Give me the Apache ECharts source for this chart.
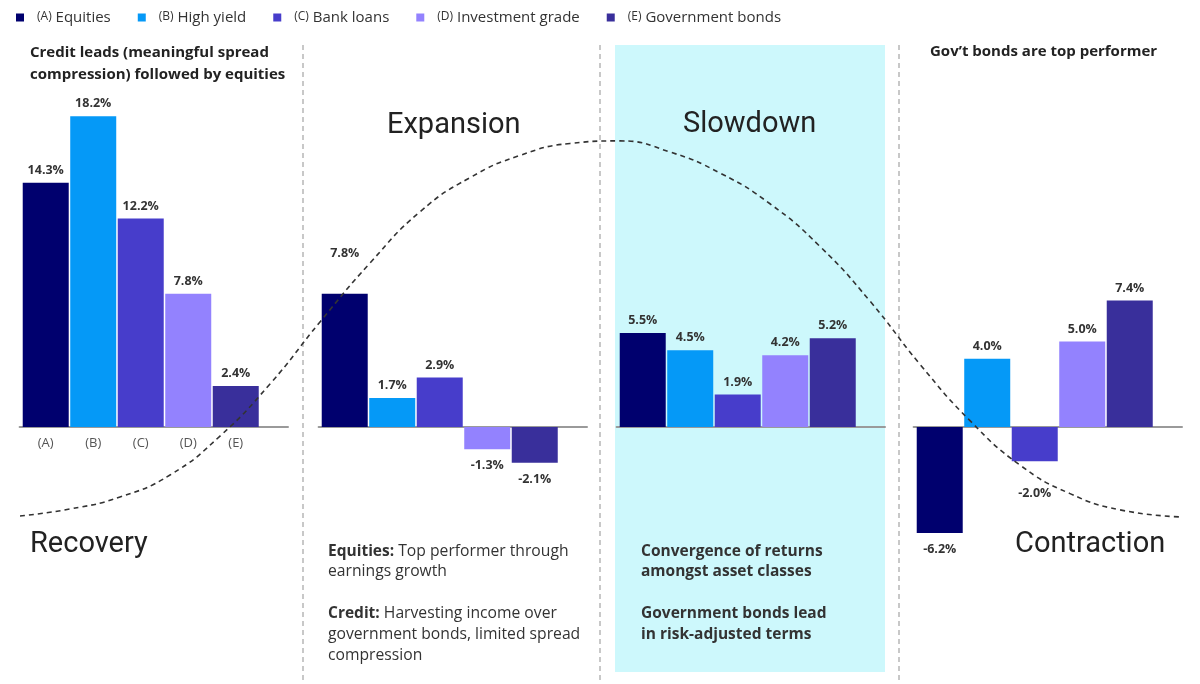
<!DOCTYPE html>
<html>
<head>
<meta charset="utf-8">
<script src="https://cdn.jsdelivr.net/npm/echarts@6/dist/echarts.min.js"></script>
<style>html,body{margin:0;padding:0;background:#fff;}#c{width:1200px;height:684px;}</style>
</head>
<body>
<div id="c"></div>
<script>
// ---- data ----
const assets = ['(A) Equities', '(B) High yield', '(C) Bank loans', '(D) Investment grade', '(E) Government bonds'];
const tickLabels = ['(A)', '(B)', '(C)', '(D)', '(E)'];
const phases = ['Recovery', 'Expansion', 'Slowdown', 'Contraction'];
const recovery = [14.3, 18.2, 12.2, 7.8, 2.4];
const expansion = [7.8, 1.7, 2.9, -1.3, -2.1];
const slowdown = [5.5, 4.5, 1.9, 4.2, 5.2];
const contraction = [-6.2, 4.0, -2.0, 5.0, 7.4];
// business-cycle curve (position across the page, level in %)
const cycleX = [20, 70, 120, 170, 220, 270, 320, 370, 420, 470, 520, 570, 620, 670, 720, 770, 820, 870, 920, 970, 1020, 1070, 1120, 1182];
const cycleY = [-5.21, -4.80, -4.10, -2.81, -0.53, 2.52, 6.15, 9.60, 12.60, 14.60, 15.90, 16.60, 16.75, 16.10, 14.87, 13.07, 10.57, 7.37, 3.67, 0.37, -2.23, -3.90, -4.85, -5.27];

// ---- styles ----
const colors = ['#00006e', '#0599f7', '#473dcb', '#9382fe', '#392f9b'];
const FONT = '"Open Sans", Roboto, sans-serif';
const BIG = 'Roboto, "Noto Sans", sans-serif';
const panelValues = [recovery, expansion, slowdown, contraction];
const panelLeft = [19.6, 318.6, 616.6, 913.6];
const panelWidth = 268.4;
const gridTop = 85.4, gridHeight = 512.4;
const labelDistance = { '1-0': 34, '3-2': 26 };

const grids = [], xAxes = [], yAxes = [], series = [];
panelValues.forEach((vals, p) => {
  grids.push({ left: panelLeft[p], width: panelWidth, top: gridTop, height: gridHeight });
  xAxes.push({
    type: 'value', gridIndex: p, min: -0.05, max: 5.6,
    axisLine: { show: true, onZero: true, lineStyle: { color: '#9a9a9a', width: 2 } },
    axisTick: { show: false }, splitLine: { show: false }, axisLabel: { show: false }
  });
  yAxes.push({ type: 'value', gridIndex: p, min: -10, max: 20, show: false });
  vals.forEach((v, k) => {
    const key = p + '-' + k;
    const neg = v < 0;
    series.push({
      type: 'bar', name: assets[k], xAxisIndex: p, yAxisIndex: p, stack: 'panel' + p,
      barWidth: 46, itemStyle: { color: colors[k] }, z: 2,
      label: {
        show: true, position: neg ? 'bottom' : 'top',
        distance: labelDistance[key] !== undefined ? labelDistance[key] : (neg ? 10 : 6),
        formatter: prm => prm.value[1].toFixed(1) + '%',
        fontWeight: 'bold', fontSize: 12.5, color: '#333', fontFamily: FONT
      },
      data: [[k + 0.5, v]]
    });
  });
});
// full-width grid for the cycle curve (index 4)
grids.push({ left: 0, width: 1200, top: gridTop, height: gridHeight });
xAxes.push({ type: 'value', gridIndex: 4, min: 0, max: 1200, show: false });
yAxes.push({ type: 'value', gridIndex: 4, min: -10, max: 20, show: false });
series.push({
  type: 'line', name: 'cycle', xAxisIndex: 4, yAxisIndex: 4, smooth: 0.5,
  showSymbol: false, silent: true, z: 5,
  lineStyle: { color: '#333', width: 1.6, type: [5, 4] },
  data: cycleX.map((x, i) => [x, cycleY[i]])
});
// category labels under the Recovery bars (index 5: grid whose bottom is the zero line)
grids.push({ left: panelLeft[0], width: panelWidth, top: gridTop, height: gridHeight * 20 / 30 });
xAxes.push({
  type: 'value', gridIndex: 5, min: -0.05, max: 5.6,
  axisLine: { show: false }, axisTick: { show: false }, splitLine: { show: false },
  axisLabel: {
    show: true, customValues: [0.5, 1.5, 2.5, 3.5, 4.5], margin: 10,
    formatter: v => tickLabels[Math.round(v - 0.5)] || '',
    color: '#555', fontSize: 13, fontFamily: FONT
  }
});
yAxes.push({ type: 'value', gridIndex: 5, min: 0, max: 20, show: false });

const txt = (x, y, text, font, extra) => Object.assign({
  type: 'text', z: 20, silent: true,
  style: Object.assign({ x, y, text, font, fill: '#222', verticalAlign: 'middle' }, extra || {})
});
const bodyRich = {
  b: { fontWeight: 'bold', fontSize: 15.5, fontFamily: FONT, fill: '#333' },
  r: { fontSize: 15.7, fontFamily: FONT, fill: '#333' }
};

const graphic = [
  { type: 'rect', z: -10, silent: true, shape: { x: 615, y: 45, width: 270, height: 627 }, style: { fill: '#cdf8fc' } },
  { type: 'line', z: -5, silent: true, shape: { x1: 303, y1: 45, x2: 303, y2: 684 }, style: { stroke: '#c8c8c8', lineWidth: 2, lineDash: [5, 4] } },
  { type: 'line', z: -5, silent: true, shape: { x1: 600, y1: 45, x2: 600, y2: 684 }, style: { stroke: '#c8c8c8', lineWidth: 2, lineDash: [5, 4] } },
  { type: 'line', z: -5, silent: true, shape: { x1: 899, y1: 45, x2: 899, y2: 684 }, style: { stroke: '#c8c8c8', lineWidth: 2, lineDash: [5, 4] } },
  txt(30, 53, 'Credit leads (meaningful spread', 'bold 15px ' + FONT),
  txt(30, 75, 'compression) followed by equities', 'bold 15px ' + FONT),
  txt(930, 52, 'Gov\u2019t bonds are top performer', 'bold 15px ' + FONT),
  txt(387, 126, phases[1], '29px ' + BIG),
  txt(683, 125, phases[2], '29px ' + BIG),
  txt(30, 545, phases[0], '29px ' + BIG),
  txt(1015, 545, phases[3], '29px ' + BIG),
  txt(328, 552, '{b|Equities:}{r| Top performer through}', '15px ' + FONT, { rich: bodyRich }),
  txt(328, 572, '{r|earnings growth}', '15px ' + FONT, { rich: bodyRich }),
  txt(328, 614, '{b|Credit:}{r| Harvesting income over}', '15px ' + FONT, { rich: bodyRich }),
  txt(328, 635, '{r|government bonds, limited spread}', '15px ' + FONT, { rich: bodyRich }),
  txt(328, 656, '{r|compression}', '15px ' + FONT, { rich: bodyRich }),
  txt(641, 552, '{b|Convergence of returns}', '15px ' + FONT, { rich: bodyRich }),
  txt(641, 572, '{b|amongst asset classes}', '15px ' + FONT, { rich: bodyRich }),
  txt(641, 614, '{b|Government bonds lead}', '15px ' + FONT, { rich: bodyRich }),
  txt(641, 635, '{b|in risk-adjusted terms}', '15px ' + FONT, { rich: bodyRich })
];

const chart = echarts.init(document.getElementById('c'), null, { renderer: 'canvas' });
chart.setOption({
  animation: false,
  backgroundColor: '#fff',
  legend: {
    data: assets, left: 16, top: 10, itemWidth: 8, itemHeight: 8, itemGap: 27, icon: 'rect',
    padding: 0,
    formatter: name => {
      const i = name.indexOf(' ');
      return '{k|' + name.slice(0, i) + '}{n| ' + name.slice(i + 1) + '}';
    },
    textStyle: {
      fontFamily: FONT, color: '#333',
      rich: {
        k: { fontSize: 12, fontFamily: FONT, color: '#333', padding: [0, 0, 2, 8] },
        n: { fontSize: 15, fontFamily: FONT, color: '#333' }
      }
    }
  },
  grid: grids, xAxis: xAxes, yAxis: yAxes, series: series, graphic: graphic
});
</script>
</body>
</html>
